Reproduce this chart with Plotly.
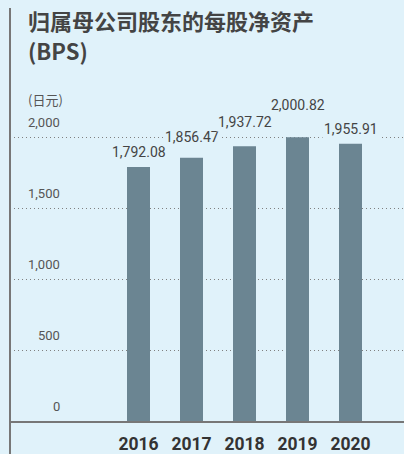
import plotly.graph_objects as go

years = ["2016", "2017", "2018", "2019", "2020"]
bps = [1792.08, 1856.47, 1937.72, 2000.82, 1955.91]
bps_labels = ["1,792.08", "1,856.47", "1,937.72", "2,000.82", "1,955.91"]
y_ticks = [0, 500, 1000, 1500, 2000]
y_tick_labels = ["0", "500", "1,000", "1,500", "2,000"]

# label vertical offsets (px above bar top) – styling
label_offsets = [14.5, 21, 24.5, 32, 14.5]

BG = "#e0f2fa"
BAR = "#6b8592"
W, H = 404, 454
ML, MR, MT, MB = 10, 0, 80, 33
PH = H - MT - MB
PW = W - ML - MR

def py(pix):
    return (H - MB - pix) / PH

def px(pix):
    return (pix - ML) / PW

fig = go.Figure()
fig.add_trace(go.Bar(
    x=years, y=bps, marker=dict(color=BAR, line=dict(width=0)),
    width=0.434, hoverinfo="skip",
))

ann = []
for i, (v, t, off) in enumerate(zip(bps, bps_labels, label_offsets)):
    ann.append(dict(x=i, y=v, xref="x", yref="y", text=t, showarrow=False,
                    yanchor="middle", xanchor="center", yshift=off,
                    font=dict(family="Roboto", size=14, color="#444444"),
                    bgcolor=BG, borderpad=1))
for v, t in zip(y_ticks, y_tick_labels):
    ann.append(dict(x=px(62), y=v, xref="paper", yref="y", text=t, showarrow=False,
                    xanchor="right", yanchor="middle", yshift=14.5,
                    font=dict(family="Roboto", size=13, color="#555555")))
ann.append(dict(x=px(26), y=py(20), xref="paper", yref="paper", text="归属母公司股东的每股净资产",
                showarrow=False, xanchor="left", yanchor="middle",
                font=dict(family="Noto Sans CJK SC", size=22, color="#444444", weight="bold")))
ann.append(dict(x=px(26), y=py(50), xref="paper", yref="paper", text="(BPS)",
                showarrow=False, xanchor="left", yanchor="middle",
                font=dict(family="Noto Sans CJK SC", size=22, color="#444444", weight="bold")))
ann.append(dict(x=px(26), y=py(100), xref="paper", yref="paper", text="(日元)",
                showarrow=False, xanchor="left", yanchor="middle",
                font=dict(family="Noto Sans CJK SC", size=13, color="#555555")))

fig.update_layout(
    width=W, height=H,
    margin=dict(l=ML, r=MR, t=MT, b=MB, pad=0),
    paper_bgcolor=BG, plot_bgcolor=BG,
    showlegend=False,
    annotations=ann,
    shapes=[dict(type="line", xref="paper", yref="paper", x0=0, x1=0,
                 y0=py(454), y1=py(8), line=dict(color="#777777", width=2))],
    xaxis=dict(type="category", range=[-2.4245, 5.0094], showgrid=False,
               showline=True, linecolor="#777777", linewidth=1.5,
               ticks="outside", ticklen=6, tickcolor="rgba(0,0,0,0)",
               tickfont=dict(family="Roboto", size=17.5, color="#333333", weight="bold"),
               fixedrange=True),
    yaxis=dict(range=[0, PH / 0.14179], tickvals=y_ticks[1:], showticklabels=False,
               showgrid=True, gridcolor="#808080", gridwidth=1, griddash="1px,3px",
               zeroline=False, showline=False, fixedrange=True),
)

fig.write_html("out.html", config={"displayModeBar": False},
               post_script="document.body.style.margin='0';document.body.style.overflow='hidden';")
